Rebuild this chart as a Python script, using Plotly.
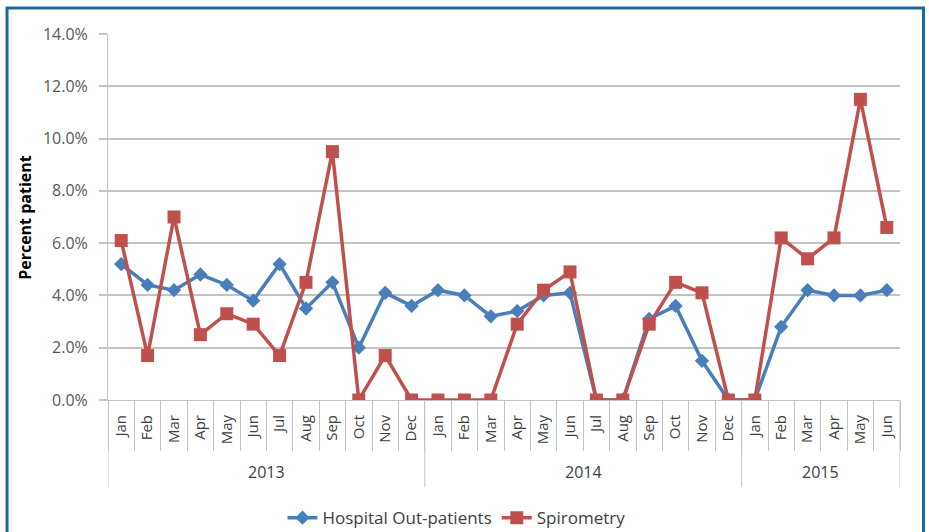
import plotly.graph_objects as go

years = ["2013", "2014", "2015"]
year_counts = [12, 12, 6]
months = ["Jan", "Feb", "Mar", "Apr", "May", "Jun", "Jul", "Aug", "Sep", "Oct", "Nov", "Dec"] * 2 + \
         ["Jan", "Feb", "Mar", "Apr", "May", "Jun"]

hospital = [5.2, 4.4, 4.2, 4.8, 4.4, 3.8, 5.2, 3.5, 4.5, 2.0, 4.1, 3.6,
            4.2, 4.0, 3.2, 3.4, 4.0, 4.1, 0.0, 0.0, 3.1, 3.6, 1.5, 0.0,
            0.0, 2.8, 4.2, 4.0, 4.0, 4.2]
spirometry = [6.1, 1.7, 7.0, 2.5, 3.3, 2.9, 1.7, 4.5, 9.5, 0.0, 1.7, 0.0,
              0.0, 0.0, 0.0, 2.9, 4.2, 4.9, 0.0, 0.0, 2.9, 4.5, 4.1, 0.0,
              0.0, 6.2, 5.4, 6.2, 11.5, 6.6]

ytick_vals = [0, 2, 4, 6, 8, 10, 12, 14]
ytick_text = ["0.0%", "2.0%", "4.0%", "6.0%", "8.0%", "10.0%", "12.0%", "14.0%"]

BLUE = "#4a7ebb"
RED = "#c0504d"
GRID = "#c3c3c3"
FONT = "Open Sans"

x = list(range(len(months)))

fig = go.Figure()
fig.add_trace(go.Scatter(
    x=x, y=hospital, name="Hospital Out-patients",
    mode="lines+markers",
    line=dict(color=BLUE, width=3.5),
    marker=dict(symbol="diamond", size=11, color=BLUE),
))
fig.add_trace(go.Scatter(
    x=x, y=spirometry, name="Spirometry",
    mode="lines+markers",
    line=dict(color=RED, width=3.5),
    marker=dict(symbol="square", size=13, color=RED),
))

# year group boundaries and labels
bounds = [-0.5]
for c in year_counts:
    bounds.append(bounds[-1] + c)

shapes = []
for b in bounds:
    shapes.append(dict(type="line", xref="x", yref="paper", x0=b, x1=b, y0=0, y1=-0.238,
                       line=dict(color=GRID, width=1)))
shapes.append(dict(type="rect", xref="paper", yref="paper",
                   x0=-0.1275, x1=1.0297, y0=-0.5, y1=1.071,
                   line=dict(color="#1b6a9f", width=3), fillcolor="rgba(0,0,0,0)", layer="below"))

annotations = []
for i, yr in enumerate(years):
    annotations.append(dict(text=yr, x=(bounds[i] + bounds[i + 1]) / 2, xref="x",
                            y=-0.197, yref="paper", showarrow=False, yanchor="middle",
                            font=dict(family=FONT, size=16, color="#404040")))
annotations.append(dict(text="<b>Percent patient</b>", x=-0.105, xref="paper", y=0.5, yref="paper",
                        textangle=-90, showarrow=False, xanchor="center", yanchor="middle",
                        font=dict(family=FONT, size=16, color="#000000")))

fig.update_layout(
    width=929, height=532,
    margin=dict(l=108, r=29, t=34, b=132, autoexpand=False),
    paper_bgcolor="white", plot_bgcolor="white",
    font=dict(family=FONT, color="#404040", size=15),
    showlegend=True,
    legend=dict(orientation="h", x=0.44, xanchor="center",
                yref="container", y=0.026, yanchor="middle",
                font=dict(family=FONT, size=17, color="#404040")),
    xaxis=dict(
        range=[-0.5, len(months) - 0.5], automargin=False,
        tickmode="array", tickvals=x, ticktext=months, tickangle=-90,
        ticks="", showline=True, linecolor=GRID, linewidth=1,
        showgrid=False, zeroline=False, ticklabelstandoff=8,
        tickfont=dict(family=FONT, size=15, color="#404040"),
        minor=dict(tickmode="array", tickvals=[i - 0.5 for i in range(len(months) + 1)],
                   ticks="outside", ticklen=50, tickcolor=GRID, tickwidth=1, showgrid=False),
    ),
    yaxis=dict(
        range=[0, 14], tickvals=ytick_vals, ticktext=ytick_text, automargin=False,
        showgrid=True, gridcolor=GRID, gridwidth=1.6,
        showline=True, linecolor=GRID, linewidth=1,
        ticks="outside", ticklen=8, tickcolor=GRID, tickwidth=1.6,
        ticklabelstandoff=8,
        zeroline=False,
        tickfont=dict(family=FONT, size=16, color="#595959"),
    ),
    shapes=shapes,
    annotations=annotations,
)

fig.write_html("out.html", config={"displayModeBar": False},
               post_script="document.body.style.margin='0';")
